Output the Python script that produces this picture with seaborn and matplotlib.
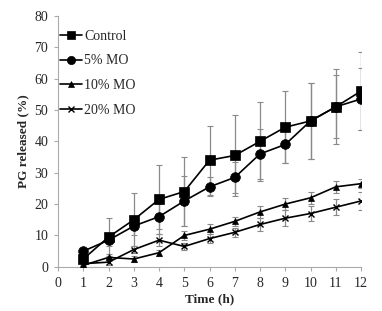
import numpy as np
import pandas as pd
import seaborn as sns
import matplotlib.pyplot as plt

time_h = [1, 2, 3, 4, 5, 6, 7, 8, 9, 10, 11, 12]
series_names = ['Control', '5% MO', '10% MO', '20% MO']

control = [2.5, 9.5, 15.0, 21.5, 24.0, 34.0, 35.5, 40.0, 44.5, 46.5, 51.0, 56.0]
control_sd = [1.0, 6.0, 8.5, 11.0, 11.0, 11.0, 13.0, 12.5, 11.5, 12.0, 12.0, 12.5]
mo5 = [5.0, 8.5, 13.0, 16.0, 21.0, 25.5, 28.5, 36.0, 39.0, 46.5, 51.0, 53.5]
mo5_sd = [1.0, 2.0, 3.0, 4.0, 8.0, 3.0, 5.0, 8.0, 6.0, 12.0, 10.0, 10.0]
mo10 = [0.5, 3.0, 2.5, 4.5, 10.0, 12.0, 14.5, 17.5, 20.0, 22.0, 25.5, 26.5]
mo10_sd = [0.5, 1.0, 1.0, 1.0, 1.5, 1.5, 1.5, 2.0, 2.0, 2.0, 2.0, 1.5]
mo20 = [1.0, 1.5, 5.5, 8.5, 6.5, 9.0, 11.0, 13.5, 15.5, 17.0, 19.0, 21.0]
mo20_sd = [0.5, 1.0, 1.0, 2.0, 1.0, 1.5, 1.5, 2.0, 2.5, 2.5, 2.5, 3.0]

values = [control, mo5, mo10, mo20]
sds = [control_sd, mo5_sd, mo10_sd, mo20_sd]
markers = ['s', 'o', '^', 'x']
msizes = [7, 7, 5, 5]

sns.set_style('white')
plt.rcParams['font.family'] = ['Liberation Serif', 'DejaVu Serif']

df = pd.DataFrame({
    'time': time_h * 4,
    'value': control + mo5 + mo10 + mo20,
    'series': np.repeat(series_names, len(time_h)),
})

fig = plt.figure(figsize=(3.82, 3.11), dpi=100)
ax = fig.add_axes([0.152, 0.142, 0.793, 0.807])

for name, v, sd in zip(series_names, values, sds):
    ax.errorbar(time_h, v, yerr=sd, fmt='none', ecolor='#8a8a8a',
                elinewidth=0.9, capsize=2, capthick=0.8, zorder=1)

for name, mk, ms in zip(series_names, markers, msizes):
    sub = df[df['series'] == name]
    sns.lineplot(data=sub, x='time', y='value', ax=ax, color='black',
                 marker=mk, markersize=ms, markeredgecolor='black',
                 markeredgewidth=1.0 if mk == 'x' else 0.5,
                 linewidth=1.2, label=name, zorder=3)

ax.set_xlim(0, 12)
ax.set_ylim(0, 80)
ax.set_xticks(range(0, 13))
ax.set_yticks(range(0, 81, 10))
ax.tick_params(axis='both', labelsize=10, length=3, color='#aaaaaa',
               direction='out', bottom=True, left=True, pad=4)
for side in ['top', 'right']:
    ax.spines[side].set_visible(False)
for side in ['left', 'bottom']:
    ax.spines[side].set_color('#aaaaaa')
    ax.spines[side].set_linewidth(0.8)

ax.set_xlabel('Time (h)', fontsize=9.5, fontweight='bold', labelpad=3)
ax.set_ylabel('PG released (%)', fontsize=9.5, fontweight='bold', labelpad=4)

leg = ax.legend(loc='upper left', bbox_to_anchor=(0.005, 0.945), frameon=False,
                fontsize=10, handlelength=1.6, handletextpad=0.15,
                labelspacing=0.85, borderaxespad=0.0, borderpad=0.0,
                markerscale=0.85)

fig.savefig('out.png', dpi=100)
